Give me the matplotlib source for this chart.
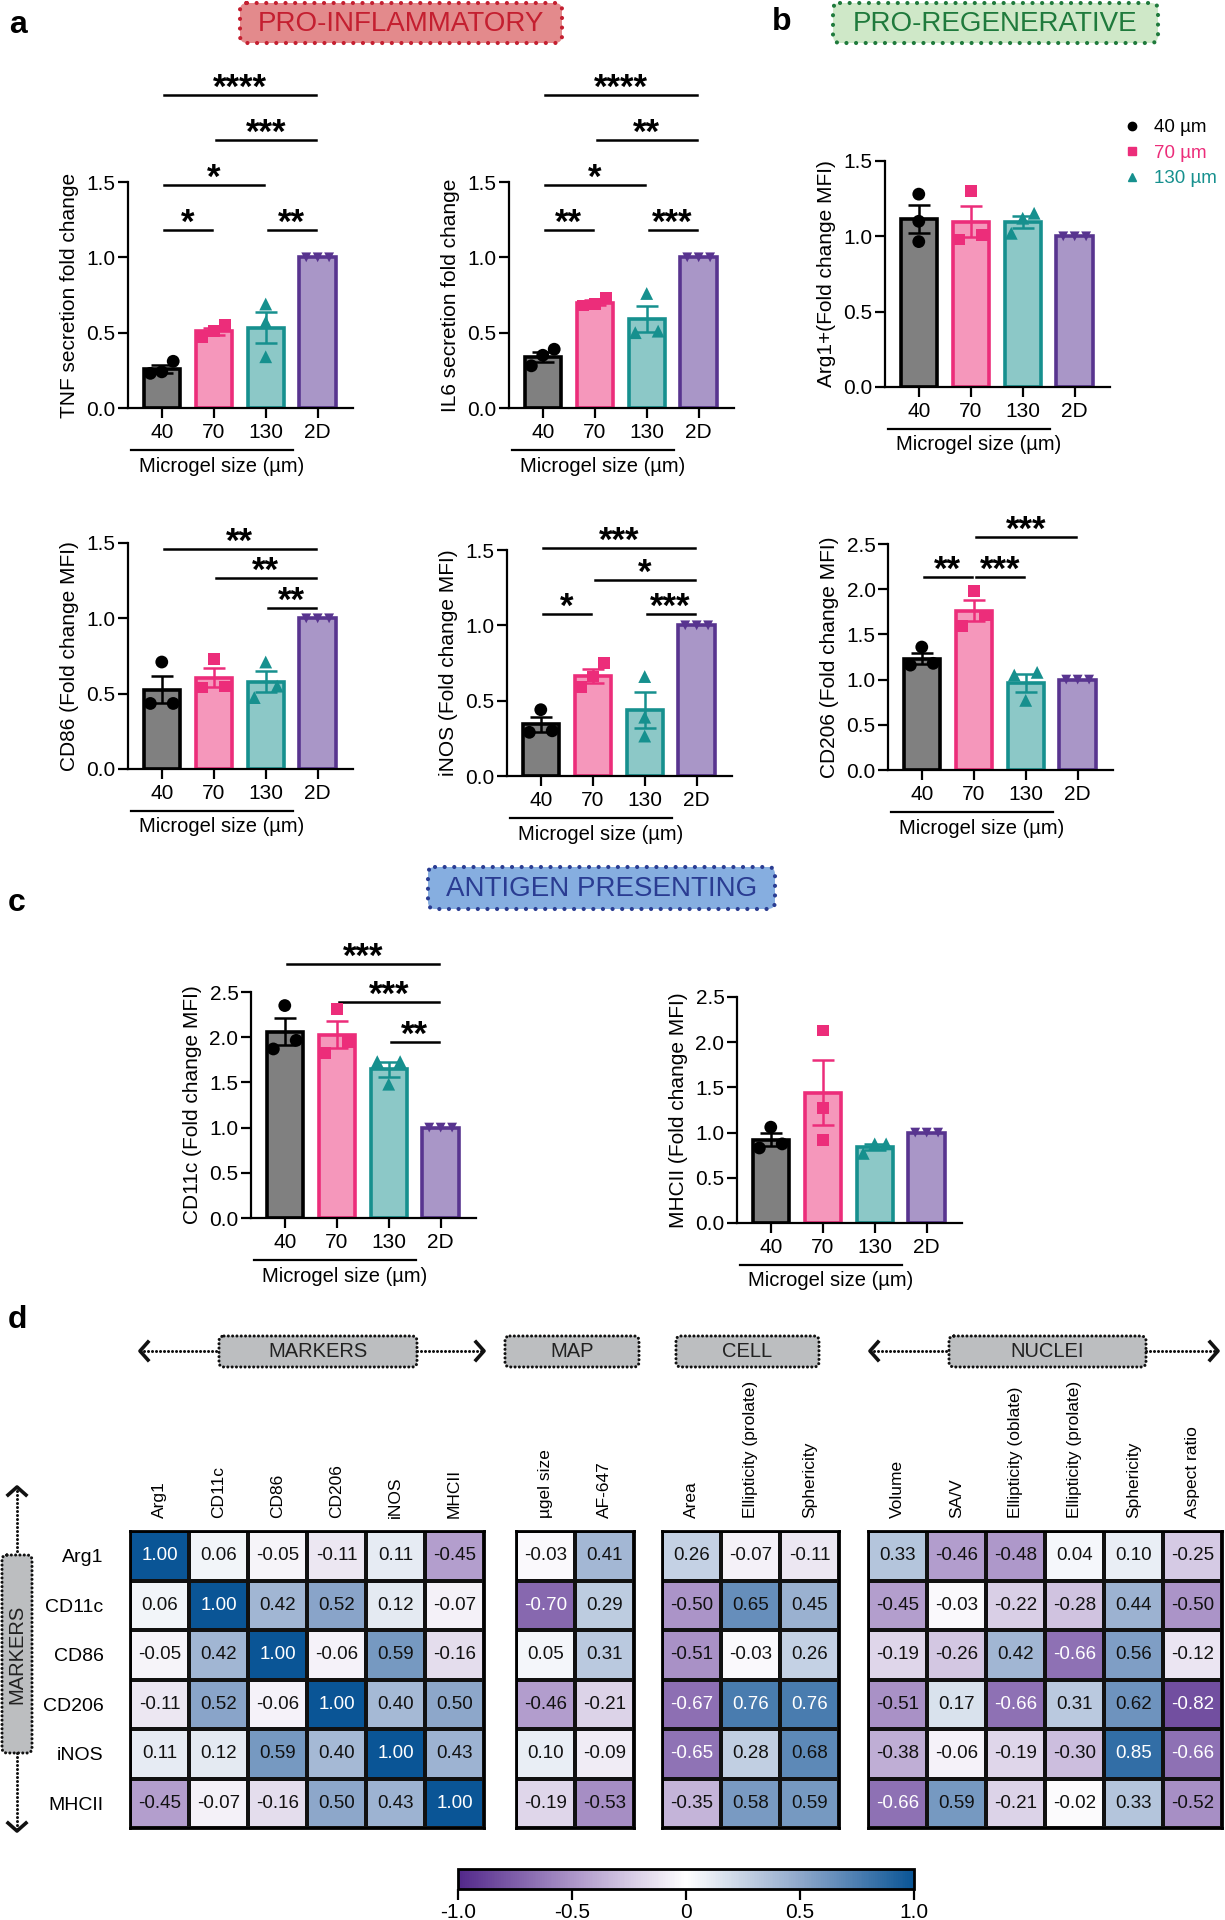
import matplotlib
matplotlib.use('Agg')
import matplotlib.pyplot as plt
import matplotlib.transforms as mtransforms
from matplotlib import font_manager
from matplotlib.colors import LinearSegmentedColormap, Normalize
from matplotlib.patches import FancyBboxPatch
from matplotlib.lines import Line2D
import matplotlib.cm as cm
import numpy as np

plt.rcParams['font.family'] = ['Liberation Sans', 'DejaVu Sans']
_names = {f.name for f in font_manager.fontManager.ttflist}
NARROW = 'Liberation Sans Narrow' if 'Liberation Sans Narrow' in _names else 'Liberation Sans'

W, H = 1225, 1920

# ---- bar chart data (replicates per group) ----
groups = ['40', '70', '130', '2D']
tnf = [[0.31, 0.23, 0.24], [0.51, 0.55, 0.47], [0.69, 0.57, 0.34], [1.0, 1.0, 1.0]]
il6 = [[0.28, 0.39, 0.35], [0.69, 0.73, 0.68], [0.76, 0.50, 0.51], [1.0, 1.0, 1.0]]
arg1 = [[1.28, 1.10, 0.965], [1.30, 0.98, 1.01], [1.153, 1.12, 1.02], [1.0, 1.0, 1.0]]
cd86 = [[0.71, 0.435, 0.435], [0.73, 0.54, 0.547], [0.71, 0.55, 0.474], [1.0, 1.0, 1.0]]
inos = [[0.44, 0.30, 0.29], [0.75, 0.66, 0.59], [0.66, 0.39, 0.265], [1.0, 1.0, 1.0]]
cd206 = [[1.36, 1.16, 1.18], [1.98, 1.71, 1.59], [1.08, 1.05, 0.77], [1.0, 1.0, 1.0]]
cd11c = [[2.35, 1.965, 1.87], [2.31, 1.95, 1.825], [1.73, 1.73, 1.48], [1.0, 1.0, 1.0]]
mhcii = [[1.06, 0.83, 0.875], [2.13, 1.274, 0.92], [0.875, 0.875, 0.77], [1.0, 1.0, 1.0]]

# significance: (group i, group j, bracket height, stars)
tnf_sig = [(0, 3, 2.08, '****'), (1, 3, 1.78, '***'), (0, 2, 1.48, '*'), (0, 1, 1.18, '*'), (2, 3, 1.18, '**')]
il6_sig = [(0, 3, 2.08, '****'), (1, 3, 1.78, '**'), (0, 2, 1.48, '*'), (0, 1, 1.18, '**'), (2, 3, 1.18, '***')]
cd86_sig = [(0, 3, 1.46, '**'), (1, 3, 1.27, '**'), (2, 3, 1.07, '**')]
inos_sig = [(0, 3, 1.51, '***'), (1, 3, 1.30, '*'), (0, 1, 1.075, '*'), (2, 3, 1.075, '***')]
cd206_sig = [(1, 3, 2.58, '***'), (0, 1, 2.13, '**'), (1, 2, 2.13, '***')]
cd11c_sig = [(0, 3, 2.81, '***'), (1, 3, 2.39, '***'), (2, 3, 1.95, '**')]

# ---- correlation heatmap data ----
rows = ['Arg1', 'CD11c', 'CD86', 'CD206', 'iNOS', 'MHCII']
marker_cols = ['Arg1', 'CD11c', 'CD86', 'CD206', 'iNOS', 'MHCII']
marker_vals = [[1.00, 0.06, -0.05, -0.11, 0.11, -0.45],
               [0.06, 1.00, 0.42, 0.52, 0.12, -0.07],
               [-0.05, 0.42, 1.00, -0.06, 0.59, -0.16],
               [-0.11, 0.52, -0.06, 1.00, 0.40, 0.50],
               [0.11, 0.12, 0.59, 0.40, 1.00, 0.43],
               [-0.45, -0.07, -0.16, 0.50, 0.43, 1.00]]
map_cols = ['µgel size', 'AF-647']
map_vals = [[-0.03, 0.41], [-0.70, 0.29], [0.05, 0.31], [-0.46, -0.21], [0.10, -0.09], [-0.19, -0.53]]
cell_cols = ['Area', 'Ellipticity (prolate)', 'Sphericity']
cell_vals = [[0.26, -0.07, -0.11], [-0.50, 0.65, 0.45], [-0.51, -0.03, 0.26],
             [-0.67, 0.76, 0.76], [-0.65, 0.28, 0.68], [-0.35, 0.58, 0.59]]
nuc_cols = ['Volume', 'SA/V', 'Ellipticity (oblate)', 'Ellipticity (prolate)', 'Sphericity', 'Aspect ratio']
nuc_vals = [[0.33, -0.46, -0.48, 0.04, 0.10, -0.25],
            [-0.45, -0.03, -0.22, -0.28, 0.44, -0.50],
            [-0.19, -0.26, 0.42, -0.66, 0.56, -0.12],
            [-0.51, 0.17, -0.66, 0.31, 0.62, -0.82],
            [-0.38, -0.06, -0.19, -0.30, 0.85, -0.66],
            [-0.66, 0.59, -0.21, -0.02, 0.33, -0.52]]

fills = ['#808080', '#f597bb', '#8cc8c7', '#a996c7']
edges = ['#000000', '#ec2d7a', '#16908e', '#58348f']
marks = ['o', 's', '^', 'v']
msizes = [85, 70, 85, 50]
FS = 15  # axis text size

fig = plt.figure(figsize=(W / 100, H / 100), dpi=100)

over = fig.add_axes([0, 0, 1, 1], zorder=-1)
over.set_xlim(0, W)
over.set_ylim(H, 0)
over.axis('off')


def px_axes(x, y, w, h, **kw):
    return fig.add_axes([x / W, 1 - (y + h) / H, w / W, h / H], **kw)


def spread(vals, ymax):
    vals = np.asarray(vals)
    offs = np.zeros(len(vals))
    close = [i for i in range(len(vals))
             if any(abs(vals[i] - vals[j]) < 0.07 * ymax for j in range(len(vals)) if j != i)]
    slots = [-0.22, 0.22, 0.0]
    if len(close) == len(vals):
        slots = [-0.22, 0.0, 0.22]
    for k, i in enumerate(sorted(close, key=lambda i: vals[i])):
        offs[i] = slots[k % 3]
    return offs


def bar_panel(x, y, pts, ymax, ylabel, sig=()):
    ax = px_axes(x, y, 225, 226)
    pos = np.arange(len(groups))
    means = [np.mean(p) for p in pts]
    sems = [np.std(p, ddof=1) / np.sqrt(len(p)) for p in pts]
    ax.bar(pos, means, 0.7, color=fills, edgecolor=edges, linewidth=2.6, zorder=2)
    for i in range(len(groups)):
        if sems[i] > 0:
            ax.errorbar(pos[i], means[i], yerr=sems[i], color=edges[i], capsize=8,
                        elinewidth=1.8, capthick=1.8, zorder=3)
        ax.scatter(pos[i] + spread(pts[i], ymax), pts[i], marker=marks[i], s=msizes[i],
                   color=edges[i], edgecolors='none', zorder=4, clip_on=False)
    ax.set_xlim(-0.65, 3.68)
    ax.set_ylim(0, ymax)
    for s in ['top', 'right']:
        ax.spines[s].set_visible(False)
    for s in ['left', 'bottom']:
        ax.spines[s].set_linewidth(1.6)
    ticks = np.arange(0, ymax + 0.01, 0.5)
    ax.set_yticks(ticks, [f'{t:.1f}' for t in ticks])
    ax.set_xticks(pos, groups)
    ax.tick_params(length=7, width=1.6, labelsize=FS, pad=2)
    ax.tick_params(axis='x', pad=4)
    ax.set_ylabel(ylabel, fontsize=FS, labelpad=5)
    tr = mtransforms.blended_transform_factory(ax.transData, ax.transAxes)
    ax.plot([-0.6, 2.52], [-42 / 226] * 2, transform=tr, color='k', lw=1.6, clip_on=False)
    ax.text(1.15, -58 / 226, 'Microgel size (µm)', transform=tr, ha='center', va='center',
            fontsize=14.5)
    for i, j, h, stars in sig:
        ax.plot([i + 0.04, j - 0.04], [h, h], color='k', lw=1.8, clip_on=False)
        ax.annotate(stars, (0.5 * (i + j), h), xytext=(0, -2), textcoords='offset points',
                    ha='center', va='baseline', fontsize=25, fontweight='bold',
                    annotation_clip=False)
    return ax


bar_panel(128, 182, tnf, 1.5, 'TNF secretion fold change', tnf_sig)
bar_panel(509, 182, il6, 1.5, 'IL6 secretion fold change', il6_sig)
ax_arg = bar_panel(885, 161, arg1, 1.5, 'Arg1+(Fold change MFI)')
bar_panel(128, 543, cd86, 1.5, 'CD86 (Fold change MFI)', cd86_sig)
bar_panel(507, 550, inos, 1.5, 'iNOS (Fold change MFI)', inos_sig)
bar_panel(888, 544, cd206, 2.5, 'CD206 (Fold change MFI)', cd206_sig)
bar_panel(251, 992, cd11c, 2.5, 'CD11c (Fold change MFI)', cd11c_sig)
bar_panel(737, 997, mhcii, 2.5, 'MHCII (Fold change MFI)')

handles = [Line2D([], [], ls='none', marker=marks[i], color=edges[i], ms=6) for i in range(3)]
ax_arg.legend(handles, ['40 µm', '70 µm', '130 µm'], loc='upper left',
              bbox_to_anchor=(1124 / W, 1 - 119 / H), bbox_transform=fig.transFigure,
              frameon=False, fontsize=13.5, labelcolor=edges[:3], handlelength=0.9,
              handletextpad=0.7, labelspacing=0.45, borderpad=0, borderaxespad=0)

# ---- heatmap ----
cmap = LinearSegmentedColormap.from_list(
    'pw', [(0.0, '#52288a'), (0.25, '#ab94c8'), (0.5, '#ffffff'), (0.75, '#8fa8cb'), (1.0, '#0a5596')])
norm = Normalize(-1, 1)
cell_w, cell_h, top = 59.0, 49.5, 1531
blocks = [(130, marker_cols, marker_vals), (516, map_cols, map_vals),
          (662, cell_cols, cell_vals), (868, nuc_cols, nuc_vals)]
for bi, (x0, cols, vals) in enumerate(blocks):
    arr = np.array(vals)
    nr, nc = arr.shape
    ax = px_axes(x0, top, cell_w * nc, cell_h * nr)
    ax.pcolormesh(arr, cmap=cmap, norm=norm, edgecolors='#111111', linewidth=1.6)
    ax.set_xlim(0, nc)
    ax.set_ylim(nr, 0)
    for r in range(nr):
        for c in range(nc):
            v = arr[r, c]
            ax.text(c + 0.5, r + 0.5, f'{v:.2f}', ha='center', va='center', fontsize=13.5,
                    family=NARROW, color='white' if (v > 0.7 or v < -0.6) else '#111111')
    ax.xaxis.tick_top()
    ax.set_xticks(np.arange(nc) + 0.5, cols, rotation=90, fontsize=12.5, family=NARROW)
    if bi == 0:
        ax.set_yticks(np.arange(nr) + 0.5, rows, fontsize=14, family=NARROW)
    else:
        ax.set_yticks([])
    ax.tick_params(length=0, pad=9)
    ax.tick_params(axis='y', pad=19)
    for s in ax.spines.values():
        s.set_linewidth(2)

cax = px_axes(458, 1869, 456, 20)
cb = fig.colorbar(cm.ScalarMappable(norm=norm, cmap=cmap), cax=cax, orientation='horizontal',
                  ticks=[-1, -0.5, 0, 0.5, 1])
cb.set_ticklabels(['-1.0', '-0.5', '0', '0.5', '1.0'])
cb.outline.set_linewidth(2)
cax.tick_params(length=8, width=1.6, labelsize=15, pad=2)

# ---- headings and annotations (pixel coords) ----
def dotted_box(x0, y0, x1, y1, fc, ec, lw, gap, r):
    p = FancyBboxPatch((x0, y0), x1 - x0, y1 - y0, boxstyle=f'round,pad=0,rounding_size={r}',
                       fc=fc, ec=ec, lw=lw, ls=(0, (0.01, gap)))
    p.set_capstyle('round')
    over.add_patch(p)


def heading(x0, y0, x1, y1, text, fc, ec):
    dotted_box(x0, y0, x1, y1, fc, ec, 3, 2.3, 7)
    over.text((x0 + x1) / 2, (y0 + y1) / 2 + 1, text, ha='center', va='center',
              fontsize=20, color=ec)


heading(240, 3, 562, 43, 'PRO-INFLAMMATORY', '#e38a8c', '#c41f30')
heading(833, 3, 1158, 43, 'PRO-REGENERATIVE', '#cfe8c8', '#1f7a3c')
heading(428, 867, 775, 909, 'ANTIGEN PRESENTING', '#86aee0', '#2a3c92')

for lab, (lx, ly) in zip('abcd', [(18, 25), (782, 22), (17, 903), (17, 1320)]):
    over.text(lx, ly, lab, ha='center', va='center', fontsize=23, fontweight='bold')


def cat_box(x0, x1, text, y0=1336, y1=1367):
    dotted_box(x0, y0, x1, y1, '#bcbec0', '#111111', 2.2, 1.4, 5)
    over.text((x0 + x1) / 2, (y0 + y1) / 2, text, ha='center', va='center', fontsize=14.5,
              family=NARROW, color='#222222')


def dotted_arrow(xs, ys, head):
    over.plot(xs, ys, color='#111111', lw=2.2, ls=(0, (0.01, 1.3)), dash_capstyle='round')
    hx, hy, dx, dy = head
    if dx:
        over.plot([hx + dx, hx, hx + dx], [hy - 9, hy, hy + 9], color='#111111', lw=2.6)
    else:
        over.plot([hx - 9, hx, hx + 9], [hy + dy, hy, hy + dy], color='#111111', lw=2.6)


cat_box(219, 417, 'MARKERS')
cat_box(505, 639, 'MAP')
cat_box(676, 819, 'CELL')
cat_box(949, 1146, 'NUCLEI')
dotted_arrow([140, 219], [1351, 1351], (140, 1351, 8, 0))
dotted_arrow([417, 484], [1351, 1351], (484, 1351, -8, 0))
dotted_arrow([870, 949], [1351, 1351], (870, 1351, 8, 0))
dotted_arrow([1146, 1218], [1351, 1351], (1218, 1351, -8, 0))

dotted_box(2, 1555, 32, 1753, '#bcbec0', '#111111', 2.2, 1.4, 5)
over.text(17, 1654, 'MARKERS', rotation=90, ha='center', va='center', fontsize=14.5,
          family=NARROW, color='#222222')
dotted_arrow([17, 17], [1487, 1555], (17, 1487, 0, 8))
dotted_arrow([17, 17], [1753, 1831], (17, 1831, 0, -8))

fig.savefig('out.png', dpi=100)
